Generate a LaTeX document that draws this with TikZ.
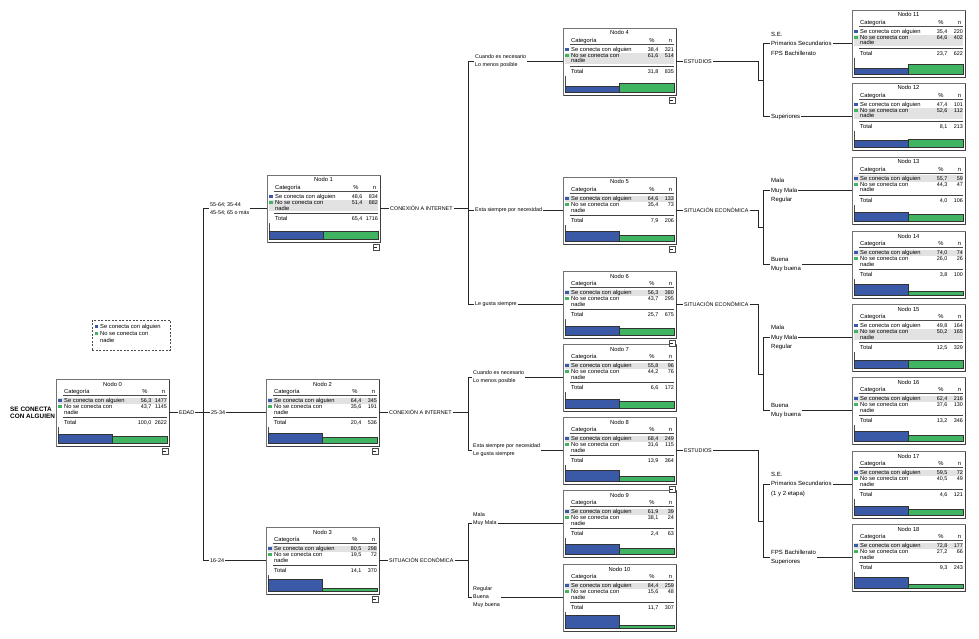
\documentclass[tikz,border=0pt]{standalone}
\usepackage{fontspec}
\setmainfont{Liberation Sans}
\usetikzlibrary{calc}
\definecolor{barblue}{RGB}{58,90,168}
\definecolor{bargreen}{RGB}{64,180,96}
\definecolor{hlgray}{RGB}{226,226,226}
\tikzset{
 tbox/.style={draw=black!55, line width=0.9pt, anchor=north west, minimum width=113pt, minimum height=67pt, inner sep=0pt, outer sep=0pt},
 ttxt/.style={font=\fontsize{5.8}{6.5}\selectfont, inner sep=0pt, anchor=base west},
 tnum/.style={font=\fontsize{5.4}{6.5}\selectfont, inner sep=0pt, anchor=base east},
 ttxtc/.style={ttxt, anchor=base},
 elab/.style={font=\fontsize{5.4}{8}\selectfont, fill=white, inner sep=1pt, align=left, anchor=west},
 rlab/.style={font=\fontsize{6}{9.5}\selectfont, fill=white, inner sep=1pt, align=left, anchor=west},
 plab/.style={font=\fontsize{5.4}{6}\selectfont, fill=white, inner sep=1pt, anchor=west},
 conn/.style={draw=black!85, line width=0.6pt},
 btn/.style={draw=black!70, line width=0.5pt, minimum size=6pt, inner sep=0pt, fill=white, anchor=north east,
   path picture={\draw[black!85, line width=0.5pt] ([xshift=1.3pt]path picture bounding box.west) -- ([xshift=-1.3pt]path picture bounding box.east);}},
}
\newcommand\tnode[9]{%
 \pgfmathtruncatemacro\tnN{#6+#8}%
 \pgfmathtruncatemacro\tnHL{#6>#8}%
 \pgfmathsetmacro\tnHA{64-15*(#6/\tnN)}%
 \pgfmathsetmacro\tnHB{64-15*(#8/\tnN)}%
 \begin{scope}[shift={(#2,#3)}]
  \node[tbox] (#1) at (0,0) {};
  \draw[black!75, line width=0.7pt] (1,67.6) -- (113.6,67.6) -- (113.6,1);
  \ifnum\tnHL=1 \fill[hlgray] (2,18.5) rectangle (111,25);\else\fill[hlgray] (2,25) rectangle (111,36);\fi
  \node[ttxtc] (#1-t) at (56.5,7) {Nodo #4};
  \node[ttxt] (#1-h) at (8,14.5) {Categoría};
  \node[ttxtc] (#1-hp) at (89,14.5) {\%};
  \node[ttxtc] (#1-hn) at (107.5,14.5) {n};
  \draw[black!70, line width=0.4pt] (7,16.3) -- (111,16.3);
  \fill[barblue] (2.4,20.2) rectangle (5.6,23.4);
  \node[ttxt] (#1-a) at (8,23.8) {Se conecta con alguien};
  \node[tnum] (#1-ap) at (95.5,23.8) {#5};
  \node[tnum] (#1-an) at (111,23.8) {#6};
  \fill[bargreen] (2.4,26.2) rectangle (5.6,29.4);
  \node[ttxt] (#1-b) at (8,29.8) {No se conecta con};
  \node[ttxt] (#1-b2) at (8,35) {nadie};
  \node[tnum] (#1-bp) at (95.5,29.8) {#7};
  \node[tnum] (#1-bn) at (111,29.8) {#8};
  \draw[black!75, line width=0.7pt] (7,38.7) -- (111,38.7);
  \node[ttxt] (#1-s) at (8,45.8) {Total};
  \node[tnum] (#1-sp) at (95.5,45.8) {#9};
  \node[tnum] (#1-sn) at (111,45.8) {\tnN};
  \draw[black!70, line width=0.5pt] (2.5,48) -- (2.5,64);
  \draw[black!80, line width=0.5pt, fill=barblue] (2.5,64) rectangle (56.5,\tnHA);
  \draw[black!80, line width=0.5pt, fill=bargreen] (56.5,64) rectangle (111,\tnHB);
 \end{scope}}
\newcommand\tbtn[1]{\node[btn] (#1-btn) at ([xshift=-1pt,yshift=-1.6pt]#1.south east) {};}
\newcommand\cedge[3]{%
 \draw[conn] (#1 |- #3.west) -- (#2.west |- #3.west);
 \draw[conn] (#2.east |- #3.west) -- (#3.west);}
\begin{document}
\begin{tikzpicture}[x=1pt,y=-1pt]
\useasboundingbox[fill=white] (0,0) rectangle (979,639);
% boxes
\tnode{n0}{56}{379}{0}{56,3}{1477}{43,7}{1145}{100,0}
\tnode{n1}{267}{175}{1}{48,6}{834}{51,4}{882}{65,4}
\tnode{n2}{266}{379}{2}{64,4}{345}{35,6}{191}{20,4}
\tnode{n3}{266}{527}{3}{80,5}{298}{19,5}{72}{14,1}
\tnode{n4}{563}{28}{4}{38,4}{321}{61,6}{514}{31,8}
\tnode{n5}{563}{177}{5}{64,6}{133}{35,4}{73}{7,9}
\tnode{n6}{563}{271}{6}{56,3}{380}{43,7}{295}{25,7}
\tnode{n7}{563}{344}{7}{55,8}{96}{44,2}{76}{6,6}
\tnode{n8}{563}{417}{8}{68,4}{249}{31,6}{115}{13,9}
\tnode{n9}{563}{490}{9}{61,9}{39}{38,1}{24}{2,4}
\tnode{n10}{563}{564}{10}{84,4}{259}{15,6}{48}{11,7}
\tnode{n11}{852}{10}{11}{35,4}{220}{64,6}{402}{23,7}
\tnode{n12}{852}{83}{12}{47,4}{101}{52,6}{112}{8,1}
\tnode{n13}{852}{157}{13}{55,7}{59}{44,3}{47}{4,0}
\tnode{n14}{852}{231}{14}{74,0}{74}{26,0}{26}{3,8}
\tnode{n15}{852}{304}{15}{49,8}{164}{50,2}{165}{12,5}
\tnode{n16}{852}{377}{16}{62,4}{216}{37,6}{130}{13,2}
\tnode{n17}{852}{451}{17}{59,5}{72}{40,5}{49}{4,6}
\tnode{n18}{852}{524}{18}{72,8}{177}{27,2}{66}{9,3}
\tbtn{n0}\tbtn{n1}\tbtn{n2}\tbtn{n3}\tbtn{n4}\tbtn{n5}\tbtn{n6}\tbtn{n8}
% title and legend
\node[font=\bfseries\fontsize{6.4}{7}\selectfont, align=left, anchor=west, inner sep=0pt] (title) at (10,412.5) {SE CONECTA\\CON ALGUIEN};
\node[draw=black!70, dash pattern=on 2pt off 1.5pt, line width=0.5pt, minimum width=78pt, minimum height=30pt, anchor=north west, inner sep=0pt] (leg) at (92,320) {};
\fill[barblue] (95,324.5) rectangle (98,327.5);
\node[ttxt] (leg-a) at (100,328.2) {Se conecta con alguien};
\fill[bargreen] (95,331.5) rectangle (98,334.5);
\node[ttxt] (leg-b) at (100,335.2) {No se conecta con};
\node[ttxt] (leg-b2) at (100,342) {nadie};
% trunk coordinates
\coordinate (tA) at (203,0);
\coordinate (tB) at (468,0);
\coordinate (jx) at (758,0);
\coordinate (tC) at (763,0);
% parent labels
\node[plab] (edad) at (178,412.5) {EDAD};
\node[plab] (c1) at (389,208.5) {CONEXIÓN A INTERNET};
\node[plab] (c2) at (388,412.5) {CONEXIÓN A INTERNET};
\node[plab] (s3) at (388,560.5) {SITUACIÓN ECONÓMICA};
\node[plab] (p4) at (683,61.5) {ESTUDIOS};
\node[plab] (p5) at (683,210.5) {SITUACIÓN ECONÓMICA};
\node[plab] (p6) at (683,304.5) {SITUACIÓN ECONÓMICA};
\node[plab] (p8) at (683,450.5) {ESTUDIOS};
% child labels
\node[elab] (l1) at (209,208.5) {55-64; 35-44\\45-54; 65 o más};
\node[elab] (l2) at (210,412.5) {25-34};
\node[elab] (l3) at (209,560.5) {16-24};
\node[elab] (l4) at (474,61.5) {Cuando es necesario\\Lo menos posible};
\node[elab] (l5) at (474,210.5) {Esta siempre por necesidad};
\node[elab] (l6) at (474,304.5) {Le gusta siempre};
\node[elab] (l7) at (472,377.5) {Cuando es necesario\\Lo menos posible};
\node[elab] (l8) at (472,450.5) {Esta siempre por necesidad\\Le gusta siempre};
\node[elab] (l9) at (472,519.5) {Mala\\Muy Mala};
\node[elab] (l10) at (472,597.5) {Regular\\Buena\\Muy buena};
\node[rlab] (l11) at (770,43.5) {S.E.\\Primarios Secundarios\\FPS Bachillerato};
\node[rlab] (l12) at (770,116.5) {Superiores};
\node[rlab] (l13) at (770,190.5) {Mala\\Muy Mala\\Regular};
\node[rlab] (l14) at (770,264.5) {Buena\\Muy buena};
\node[rlab] (l15) at (770,337.5) {Mala\\Muy Mala\\Regular};
\node[rlab] (l16) at (770,410.5) {Buena\\Muy buena};
\node[rlab] (l17) at (770,484.5) {S.E.\\Primarios Secundarios\\(1 y 2 etapa)};
\node[rlab] (l18) at (770,557.5) {FPS Bachillerato\\Superiores};
% level 0 -> 1
\draw[conn] (n0.east) -- (edad.west);
\draw[conn] (edad.east) -- (tA |- edad.east);
\draw[conn] (tA |- n1.west) -- (tA |- n3.west);
\cedge{tA}{l1}{n1}\cedge{tA}{l2}{n2}\cedge{tA}{l3}{n3}
% node 1
\draw[conn] (n1.east) -- (c1.west);
\draw[conn] (c1.east) -- (tB |- c1.east);
\draw[conn] (tB |- n4.west) -- (tB |- n6.west);
\cedge{tB}{l4}{n4}\cedge{tB}{l5}{n5}\cedge{tB}{l6}{n6}
% node 2
\draw[conn] (n2.east) -- (c2.west);
\draw[conn] (c2.east) -- (tB |- c2.east);
\draw[conn] (tB |- n7.west) -- (tB |- n8.west);
\cedge{tB}{l7}{n7}\cedge{tB}{l8}{n8}
% node 3
\draw[conn] (n3.east) -- (s3.west);
\draw[conn] (s3.east) -- (tB |- s3.east);
\draw[conn] (tB |- n9.west) -- (tB |- n10.west);
\cedge{tB}{l9}{n9}\cedge{tB}{l10}{n10}
% node 4
\coordinate (m4) at ($(n11.west)!0.5!(n12.west)$);
\draw[conn] (n4.east) -- (p4.west);
\draw[conn] (p4.east) -- (jx |- p4.east) -- (jx |- m4) -- (tC |- m4);
\draw[conn] (tC |- n11.west) -- (tC |- n12.west);
\cedge{tC}{l11}{n11}\cedge{tC}{l12}{n12}
% node 5
\coordinate (m5) at ($(n13.west)!0.5!(n14.west)$);
\draw[conn] (n5.east) -- (p5.west);
\draw[conn] (p5.east) -- (jx |- p5.east) -- (jx |- m5) -- (tC |- m5);
\draw[conn] (tC |- n13.west) -- (tC |- n14.west);
\cedge{tC}{l13}{n13}\cedge{tC}{l14}{n14}
% node 6
\coordinate (m6) at ($(n15.west)!0.5!(n16.west)$);
\draw[conn] (n6.east) -- (p6.west);
\draw[conn] (p6.east) -- (jx |- p6.east) -- (jx |- m6) -- (tC |- m6);
\draw[conn] (tC |- n15.west) -- (tC |- n16.west);
\cedge{tC}{l15}{n15}\cedge{tC}{l16}{n16}
% node 8
\coordinate (m8) at ($(n17.west)!0.5!(n18.west)$);
\draw[conn] (n8.east) -- (p8.west);
\draw[conn] (p8.east) -- (jx |- p8.east) -- (jx |- m8) -- (tC |- m8);
\draw[conn] (tC |- n17.west) -- (tC |- n18.west);
\cedge{tC}{l17}{n17}\cedge{tC}{l18}{n18}
\end{tikzpicture}
\end{document}
